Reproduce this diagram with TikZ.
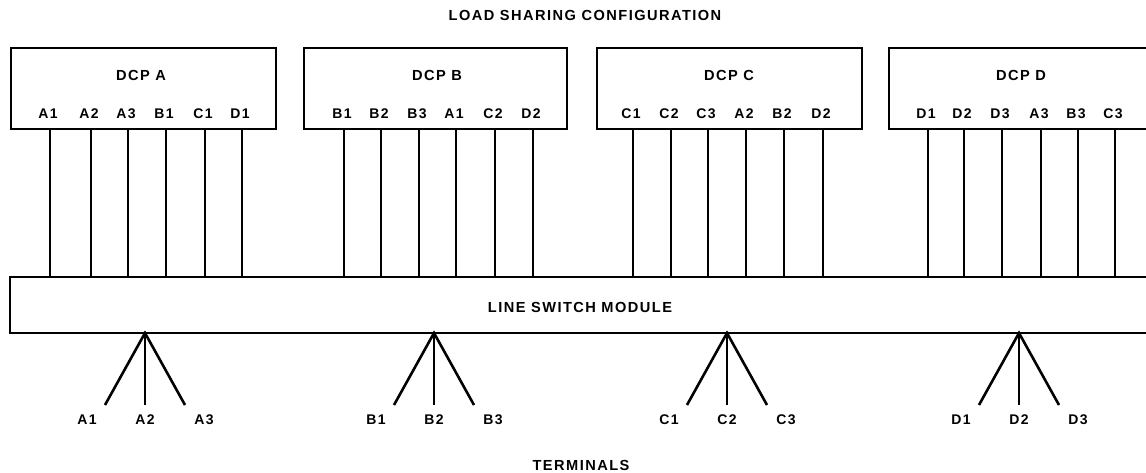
\documentclass[tikz,border=0pt]{standalone}
\usepackage{fontspec}
\setmainfont{Liberation Sans}[BoldFont={Liberation Sans Bold}]
\newfontfamily\lblfont{Liberation Sans Bold}[LetterSpace=10]
\begin{document}
\begin{tikzpicture}[x=1pt,y=-1pt,
  wire/.style={line width=2.6pt},
  boxst/.style={draw,line width=2.6pt,rectangle,inner sep=0pt},
  ttl/.style={font=\lblfont\fontsize{14.6}{16}\selectfont,inner sep=0pt},
  lbl/.style={font=\lblfont\fontsize{14}{16}\selectfont,inner sep=0pt}]
\useasboundingbox (0,0) rectangle (1146,473);
\clip (0,0) rectangle (1146,473);
\node[ttl] (title) at (585,15) {LOAD SHARING CONFIGURATION};
\node[ttl] (term) at (581,465) {TERMINALS};
% DCP boxes
\node[boxst,minimum width=265pt,minimum height=81pt] (dA) at (143.5,88.5) {};
\node[boxst,minimum width=263pt,minimum height=81pt] (dB) at (435.5,88.5) {};
\node[boxst,minimum width=265pt,minimum height=81pt] (dC) at (729.5,88.5) {};
\node[boxst,minimum width=266pt,minimum height=81pt] (dD) at (1022,88.5) {};
\node[ttl] (nA) at (141,75) {DCP A};
\node[ttl] (nB) at (437,75) {DCP B};
\node[ttl] (nC) at (729,75) {DCP C};
\node[ttl] (nD) at (1021,75) {DCP D};
% line switch module
\node[boxst,minimum width=1150pt,minimum height=56pt] (lsm) at (585,305) {};
\node[ttl] (lsmt) at (580,307) {LINE SWITCH MODULE};
% ports
\foreach \nm/\x/\t in {a1/50/A1,a2/91/A2,a3/128/A3,a4/166/B1,a5/205/C1,a6/242/D1,
  b1/344/B1,b2/381/B2,b3/419/B3,b4/456/A1,b5/495/C2,b6/533/D2,
  c1/633/C1,c2/671/C2,c3/708/C3,c4/746/A2,c5/784/B2,c6/823/D2,
  d1/928/D1,d2/964/D2,d3/1002/D3,d4/1041/A3,d5/1078/B3,d6/1115/C3}{
  \node[lbl] (l\nm) at (\x-2,114) {\t};
  \coordinate (p\nm) at (\x,129);
  \draw[wire] (p\nm) -- (p\nm |- lsm.north);
}
% terminals
\foreach \g/\x/\a/\b/\c in {A/145/A1/A2/A3,B/434/B1/B2/B3,C/727/C1/C2/C3,D/1019/D1/D2/D3}{
  \coordinate (ap\g) at (\x,333);
  \coordinate (e\g1) at (\x-40,405);
  \coordinate (e\g2) at (\x,405);
  \coordinate (e\g3) at (\x+40,405);
  \node[lbl] (t\g1) at (\x-58,420) {\a};
  \node[lbl] (t\g2) at (\x,420) {\b};
  \node[lbl] (t\g3) at (\x+59,420) {\c};
  \draw[wire,line join=miter] (e\g1) -- (ap\g) -- (e\g3);
  \draw[wire] (ap\g) -- (e\g2);
}
\end{tikzpicture}
\end{document}
